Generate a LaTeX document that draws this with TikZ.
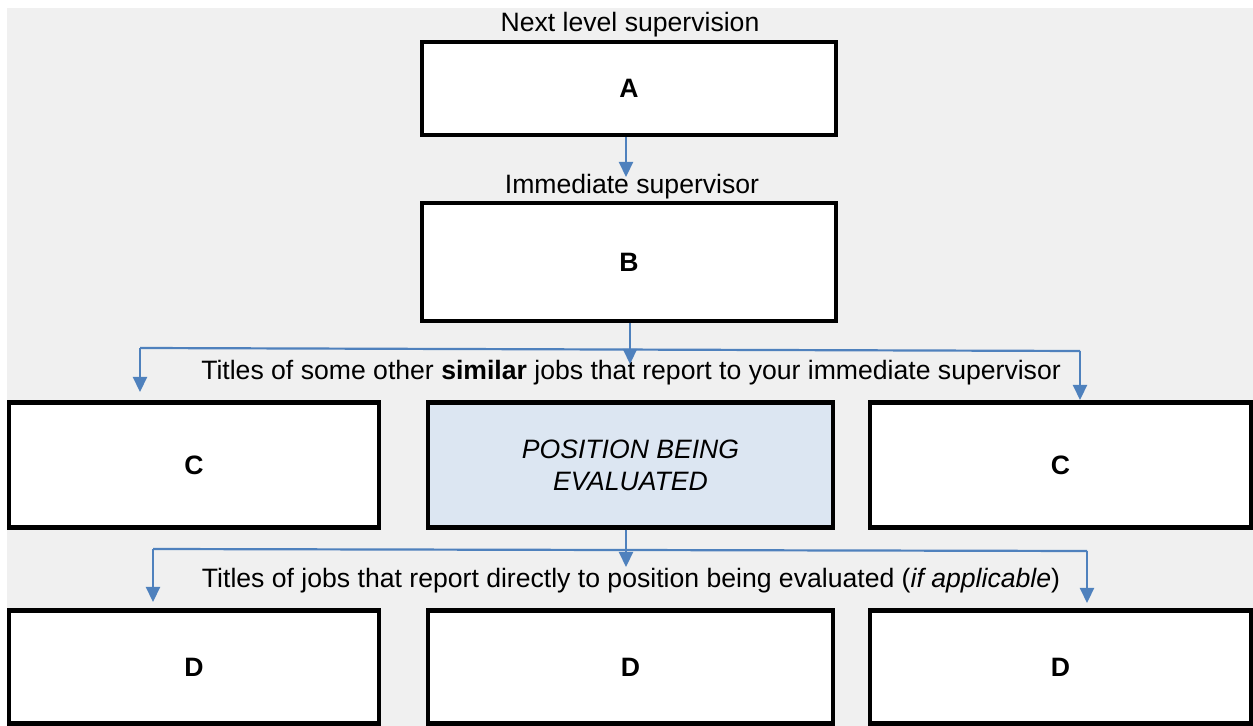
\documentclass[tikz,border=0pt]{standalone}
\usepackage{fontspec}
\setmainfont{Liberation Sans}
\usepackage{tikz}
\usetikzlibrary{positioning,arrows.meta}

\definecolor{bgGrey}{HTML}{F0F0F0}
\definecolor{linkBlue}{HTML}{4F81BD}
\definecolor{posFill}{HTML}{DCE6F2}

\tikzset{
    jobBox/.style={draw=black, line width=2.1pt, fill=white, inner sep=0pt,
        font=\fontsize{13.3}{16}\selectfont\bfseries, align=center},
    rowLabel/.style={font=\fontsize{13.3}{16}\selectfont, inner sep=0pt},
    link/.style={draw=linkBlue, line width=1.1pt},
    linkArr/.style={link, -{Triangle[length=7.5pt,width=7pt]}}
}

\begin{document}
\begin{tikzpicture}[x=0.5pt, y=-0.5pt]
    \useasboundingbox (0,0) rectangle (1253,726);
    \fill[bgGrey] (7,8) rectangle (1253,726);

    \node[rowLabel] (labA) at (630,25) {Next level supervision};
    \node[jobBox, minimum width=207pt, minimum height=46.5pt] (A) at (629,88.5) {A};

    \node[rowLabel] (labB) at (632,187) {Immediate supervisor};
    \node[jobBox, minimum width=207pt, minimum height=59pt] (B) at (629,262) {B};

    \node[rowLabel] (labC) at (631,373) {Titles of some other \textbf{similar} jobs that report to your immediate supervisor};
    \node[jobBox, minimum width=185pt, minimum height=62.5pt] (C1) at (194,465) {C};
    \node[jobBox, fill=posFill, minimum width=202.5pt, minimum height=62.5pt, font=\fontsize{13.3}{16}\selectfont\itshape] (P) at (630.5,465) {POSITION BEING\\EVALUATED};
    \node[jobBox, minimum width=190.5pt, minimum height=62.5pt] (C2) at (1060.5,465) {C};

    \node[rowLabel] (labD) at (631,581) {Titles of jobs that report directly to position being evaluated (\textit{if applicable})};
    \node[jobBox, minimum width=185pt, minimum height=56.5pt] (D1) at (194,667) {D};
    \node[jobBox, minimum width=202.5pt, minimum height=56.5pt] (D2) at (630.5,667) {D};
    \node[jobBox, minimum width=190.5pt, minimum height=56.5pt] (D3) at (1060.5,667) {D};

    % arrow tips and branch corners
    \coordinate (tipA) at (626,177);
    \coordinate (tipB) at (630,364);
    \coordinate (cornerCL) at (140,348);
    \coordinate (cornerCR) at (1080,351);
    \coordinate (tipCL) at (140,392);
    \coordinate (tipCR) at (1080,400);
    \coordinate (tipP) at (626,567);
    \coordinate (cornerDL) at (153,549);
    \coordinate (cornerDR) at (1087,551);
    \coordinate (tipDL) at (153,602);
    \coordinate (tipDR) at (1087,603);

    \draw[linkArr] (A.south -| tipA) -- (tipA);

    \draw[linkArr] (B.south -| tipB) -- (tipB);
    \draw[link] (cornerCL) -- (cornerCR);
    \draw[linkArr] (cornerCL) -- (tipCL);
    \draw[linkArr] (cornerCR) -- (tipCR);

    \draw[linkArr] (P.south -| tipP) -- (tipP);
    \draw[link] (cornerDL) -- (cornerDR);
    \draw[linkArr] (cornerDL) -- (tipDL);
    \draw[linkArr] (cornerDR) -- (tipDR);
\end{tikzpicture}
\end{document}
